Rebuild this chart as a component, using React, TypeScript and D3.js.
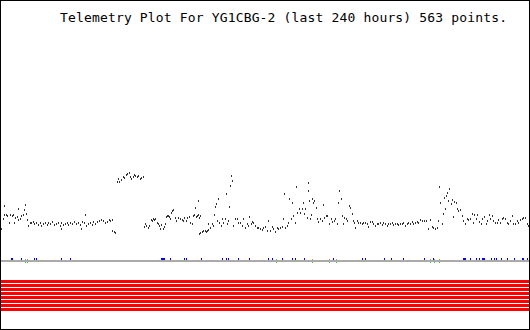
import React from "react";
import * as d3 from "d3";

const TITLE = "Telemetry Plot For YG1CBG-2 (last 240 hours) 563 points.";

// time in plot slots (1..528 across 240 hours), value in arbitrary units (0..100)
const pts: [number, number][] = [
  [1,228],[3,218],[4,205],[4,214],[6,214],[7,215],[9,222],[10,214],[12,215],[13,214],[14,222],[15,217],[17,216],[18,208],[18,219],[20,218],[21,215],[23,214],[24,209],[25,204],[26,213],[27,219],[28,225],[30,222],
  [31,222],[33,221],[34,223],[36,222],[38,224],[40,222],[41,225],[43,223],[45,222],[47,224],[48,222],[50,223],[52,221],[54,224],[56,223],[58,222],[60,225],[61,222],[61,228],[63,224],[65,223],[67,222],[68,224],[70,222],[72,223],[74,221],[76,223],[78,222],[80,224],[81,228],[82,221],[84,222],[85,214],[86,225],[88,223],[90,222],[92,224],[93,221],[95,223],[97,221],[99,220],[101,219],[103,220],[105,222],[107,221],[109,219],[110,220],[112,219],
  [112,230],[114,231],[115,232],
  [117,181],[118,178],[119,181],[121,179],[123,176],[124,177],[126,174],[127,173],[129,172],[130,176],[131,178],[133,176],[134,174],[135,175],[137,176],[138,175],[140,178],[141,177],[143,176],
  [144,226],[145,223],[146,225],[148,227],[149,225],[151,219],[152,220],[153,218],[154,219],[155,218],[157,222],[158,223],[159,225],[160,228],[161,224],[163,228],[164,226],[165,223],[166,216],[167,215],[168,215],[169,216],[170,218],[171,212],[172,210],[173,209],[175,217],[176,220],[178,217],
  [180,218],[182,219],[183,220],[184,217],[186,220],[187,217],[189,216],[190,222],[192,223],[193,215],[194,214],[195,207],[196,216],[197,215],[198,214],[198,200],[199,217],[200,215],
  [199,233],[200,232],[202,231],[203,230],[205,230],[206,231],[207,230],[208,229],
  [208,223],[210,227],[212,223],[213,225],[214,214],[215,206],[216,203],[217,220],[218,198],[219,222],[221,225],[222,218],[223,222],[225,218],[226,193],[227,223],[228,220],[229,206],[230,185],[231,175],[232,180],[233,225],
  [235,218],[237,218],[238,222],[240,222],[242,225],[243,218],[245,227],[247,223],[248,225],[249,216],[251,223],[252,221],[253,222],[255,225],[257,227],[258,227],[260,228],[262,229],[263,227],[265,226],[267,230],[268,220],[270,230],[272,226],[273,228],[275,231],[277,227],[278,228],[280,227],[282,226],[283,218],
  [284,193],[285,227],[287,225],[288,222],[289,198],[291,218],[292,202],[293,215],[295,222],[296,186],[297,212],[299,208],[300,212],[302,208],[303,202],[304,213],[305,208],[307,217],[308,190],[308,182],[309,200],[310,218],[311,214],[312,198],[313,202],
  [314,200],[316,207],[317,218],[318,221],[320,218],[322,220],[323,204],[324,217],[326,215],[327,215],[329,223],[331,218],[332,221],[334,220],[335,218],[337,223],[338,202],[339,190],[341,198],[342,215],[343,223],[344,217],[346,218],[347,220],[349,205],
  [350,207],[352,213],[353,220],[354,222],[355,227],[357,220],[358,222],[360,222],[362,223],[363,222],[365,222],[367,223],[368,226],[370,221],[372,221],[373,223],[375,225],[377,223],[378,223],[380,222],[382,224],[383,222],[385,223],[387,225],[388,223],[390,223],[392,222],[393,224],[395,223],[397,223],[398,224],[400,223],[402,223],[403,222],[405,225],[407,223],[408,222],[410,223],[412,221],[413,223],[415,222],[417,221],[418,222],[420,219],[422,220],[424,220],[426,220],[428,228],[430,219],[432,226],[433,227],[435,228],[437,227],[438,220],
  [439,186],[440,202],[442,223],[443,213],[444,197],[445,208],[446,195],[447,192],[448,200],[449,188],[451,203],[452,199],[453,216],[454,201],[456,202],[457,208],[458,210],[460,209],[462,215],[463,220],[465,223],[467,218],[468,219],[470,218],[472,213],[473,222],[474,214],[476,218],[477,214],[479,221],[481,223],[482,218],[484,216],[486,223],[487,220],[489,214],[490,218],[492,215],[493,220],[495,222],[497,222],[498,219],[500,222],[502,218],[503,217],[505,218],[507,222],[508,223],[510,220],[512,215],[513,223],[515,223],[517,220],[518,222],[520,219],[522,218],[523,217],[525,217],[527,223],[528,225],
];
const times: number[] = pts.map((p) => p[0]);
const values: number[] = pts.map((p) => 260 - p[1]);

const blueTimes: number[] = [11,12,21,34,36,61,70,161,162,163,164,170,184,186,201,222,226,228,238,249,268,272,282,292,295,304,333,362,365,384,391,403,424,433,463,464,465,470,476,479,482,483,484,491,494,496,501,507,514,522,523,527];
const greenTimes: number[] = [25,27,276,312,329,336,430,434,439];
const stripes: number[] = [0,1,2,3,4,5,6,7];

export default function App() {
  const W = 530, H = 330;
  const x = d3.scaleLinear().domain([1, 528]).range([1, 528]);
  const y = d3.scaleLinear().domain([0, 100]).range([260, 160]);
  const sy = d3.scaleLinear().domain([0, 8]).range([280, 312]);
  return (
    <svg width={W} height={H} style={{ position: "fixed", left: 0, top: 0, background: "#fff" }} shapeRendering="crispEdges">
      <rect x={0} y={0} width={W} height={H} fill="#fff" />
      <text x={60} y={22} fontFamily="'DejaVu Sans Mono', monospace" fontSize={13} fill="#000" textLength={447} lengthAdjust="spacing">{TITLE}</text>
      {times.map((t, i) => (
        <rect key={i} x={Math.round(x(t))} y={Math.round(y(values[i]))} width={1} height={2} fill="#333" />
      ))}
      <rect x={1} y={260} width={528} height={2} fill="#aaa" />
      {blueTimes.map((t, i) => (
        <rect key={"b" + i} x={Math.round(x(t))} y={258} width={1} height={2} fill="#0000ff" />
      ))}
      {greenTimes.map((t, i) => (
        <g key={"g" + i}>
          <rect x={Math.round(x(t))} y={259} width={1} height={1} fill="#999" />
          <rect x={Math.round(x(t))} y={262} width={1} height={1} fill="#33cc33" />
        </g>
      ))}
      {stripes.map((s) => (
        <rect key={"s" + s} x={1} y={sy(s)} width={528} height={3} fill="#ff0000" />
      ))}
      <rect x={0.5} y={0.5} width={529} height={329} fill="none" stroke="#000" strokeWidth={1} />
    </svg>
  );
}
